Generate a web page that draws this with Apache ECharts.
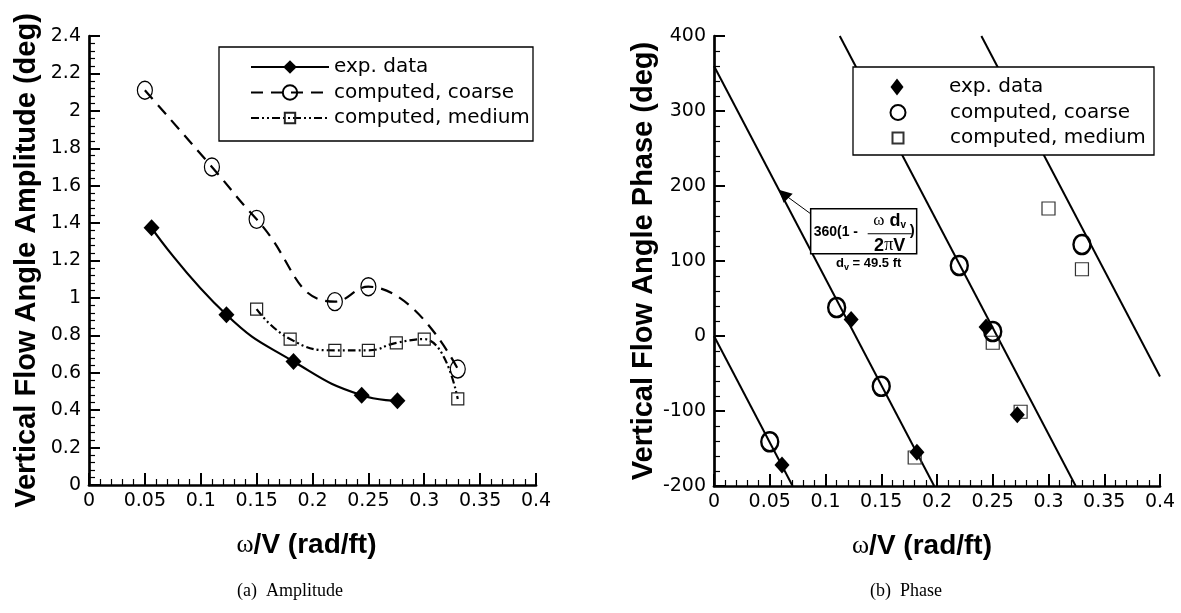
<!DOCTYPE html>
<html>
<head>
<meta charset="utf-8">
<script src="https://cdn.jsdelivr.net/npm/echarts@6/dist/echarts.min.js"></script>
<style>
html,body{margin:0;padding:0;background:#fff;}
#c{width:1181px;height:613px;}
</style>
</head>
<body>
<div id="c"></div>
<script>
// ---------- data ----------
const xTicks = [0, 0.05, 0.1, 0.15, 0.2, 0.25, 0.3, 0.35, 0.4];
const ampExp = [[0.056, 1.375], [0.123, 0.91], [0.183, 0.66], [0.244, 0.48], [0.276, 0.45]];
const ampCoarse = [[0.05, 2.11], [0.11, 1.70], [0.15, 1.42], [0.22, 0.98], [0.25, 1.06], [0.33, 0.62]];
const ampMedium = [[0.15, 0.94], [0.18, 0.78], [0.22, 0.72], [0.25, 0.72], [0.275, 0.76], [0.30, 0.78], [0.33, 0.46]];

const phExp = [[0.061, -172], [0.123, 22], [0.182, -155], [0.244, 12], [0.272, -105]];
const phCoarse = [[0.05, -141], [0.11, 38], [0.15, -67], [0.22, 94], [0.25, 6], [0.33, 122]];
const phMedium = [[0.18, -162], [0.25, -9], [0.275, -101], [0.30, 170], [0.33, 89]];
// reference lines 360(1 - w dv / 2piV) + k*360, endpoints
const refLine0 = [[0, 0], [0.0705, -200]];
const refLine1 = [[0, 360], [0.1975, -200]];
const refLine2 = [[0.1128, 400], [0.3244, -200]];
const refLine3 = [[0.2398, 400], [0.4, -54]];

const names = ['exp. data', 'computed, coarse', 'computed, medium'];
const annAnchor = [0.058, 195];

// ---------- chart ----------
const chart = echarts.init(document.getElementById('c'));
const FONT = '"DejaVu Sans", sans-serif';
const BFONT = '"Liberation Sans", Arial, sans-serif';
const tickLabel = {fontFamily: FONT, fontSize: 19, color: '#000'};

function xAxis(gi, shift) {
  return {
    gridIndex: gi, type: 'value', min: 0, max: 0.4, interval: 0.05,
    axisLine: {show: true, onZero: false, lineStyle: {color: '#000', width: 2.7}},
    axisTick: {show: true, inside: true, length: 12, lineStyle: {color: '#000', width: 2}},
    minorTick: {show: true, splitNumber: 5, length: 6, lineStyle: {color: '#000', width: 1.2}},
    splitLine: {show: false},
    axisLabel: Object.assign({margin: 7, formatter: v => String(+v.toFixed(2))}, tickLabel),
    name: '{w|ω}/V (rad/ft)', nameLocation: 'middle', nameGap: 46,
    nameTextStyle: {fontFamily: BFONT, fontWeight: 'bold', fontSize: 28, color: '#000', padding: [0, shift, 0, 0],
      rich: {w: {fontFamily: '"Liberation Serif", serif', fontWeight: 'normal', fontSize: 26, color: '#000'}}}
  };
}
function yAxis(gi, min, max, interval, name, gap) {
  return {
    gridIndex: gi, type: 'value', min: min, max: max, interval: interval,
    axisLine: {show: true, onZero: false, lineStyle: {color: '#000', width: 2.7}},
    axisTick: {show: true, inside: true, length: 11, lineStyle: {color: '#000', width: 2}},
    minorTick: {show: true, splitNumber: 5, length: 6, lineStyle: {color: '#000', width: 1.2}},
    splitLine: {show: false},
    axisLabel: Object.assign({margin: 8, formatter: v => String(+v.toFixed(2))}, tickLabel),
    name: name, nameLocation: 'middle', nameGap: gap, nameRotate: 90,
    nameTextStyle: {fontFamily: BFONT, fontWeight: 'bold', fontSize: 29, color: '#000'}
  };
}
const hollow = (bw, c) => ({color: 'rgba(0,0,0,0)', borderColor: c || '#000', borderWidth: bw, opacity: 1});

// legends: one component per entry so each icon can have its own size
const legTxt = {fontFamily: FONT, fontSize: 20, color: '#000', lineHeight: 22};
const leftRows = [67, 92.5, 118];
const leftIconH = [17, 18, 13];
const rightRows = [87, 112.5, 138];
const rightIcon = [[13, 17], [15, 15], [11, 11]];
const legends = [];
names.forEach((n, i) => {
  legends.push({data: [n], left: 250, top: leftRows[i] - 11, padding: 0, z: 20,
    itemWidth: 78, itemHeight: leftIconH[i], textStyle: legTxt, selectedMode: false});
});
names.forEach((n, i) => {
  const w = rightIcon[i][0], h = rightIcon[i][1];
  legends.push({data: [n + ' (b)'], left: 897 - w / 2, top: rightRows[i] - 11, padding: 0, z: 20,
    itemWidth: w, itemHeight: h, selectedMode: false,
    formatter: s => '{p|}' + s.replace(' (b)', ''),
    textStyle: Object.assign({rich: {p: {width: 47 - w / 2}}}, legTxt)});
});

const option = {
  animation: false,
  backgroundColor: '#fff',
  grid: [
    {left: 89, top: 36, width: 447, height: 449},
    {left: 714, top: 36, width: 446, height: 450}
  ],
  xAxis: [xAxis(0, 12), xAxis(1, 30)],
  yAxis: [
    yAxis(0, 0, 2.4, 0.2, 'Vertical Flow Angle Amplitude (deg)', 48),
    yAxis(1, -200, 400, 100, 'Vertical Flow Angle Phase (deg)', 48)
  ],
  legend: legends,
  series: [
    {name: names[0], type: 'line', xAxisIndex: 0, yAxisIndex: 0, data: ampExp, smooth: 0.5,
      symbol: 'diamond', symbolSize: [16, 17], itemStyle: {color: '#000'},
      lineStyle: {color: '#000', width: 2.2, type: 'solid'}, z: 5},
    {name: names[1], type: 'line', xAxisIndex: 0, yAxisIndex: 0, data: ampCoarse, smooth: 0.5,
      symbol: 'circle', symbolSize: [15, 18], itemStyle: hollow(1.3),
      lineStyle: {color: '#000', width: 2.2, type: [12, 8]}, z: 4},
    {name: names[2], type: 'line', xAxisIndex: 0, yAxisIndex: 0, data: ampMedium, smooth: 0.5,
      symbol: 'rect', symbolSize: [12, 12], itemStyle: hollow(1.2, '#222'),
      lineStyle: {color: '#000', width: 2.2, type: [8, 3, 2, 3, 2, 3]}, z: 3},

    {type: 'line', xAxisIndex: 1, yAxisIndex: 1, data: refLine0, showSymbol: false, silent: true,
      lineStyle: {color: '#000', width: 2}},
    {type: 'line', xAxisIndex: 1, yAxisIndex: 1, data: refLine1, showSymbol: false, silent: true,
      lineStyle: {color: '#000', width: 2}},
    {type: 'line', xAxisIndex: 1, yAxisIndex: 1, data: refLine2, showSymbol: false, silent: true,
      lineStyle: {color: '#000', width: 2}},
    {type: 'line', xAxisIndex: 1, yAxisIndex: 1, data: refLine3, showSymbol: false, silent: true,
      lineStyle: {color: '#000', width: 2}},

    {name: names[0] + ' (b)', type: 'scatter', xAxisIndex: 1, yAxisIndex: 1, data: phExp,
      symbol: 'diamond', symbolSize: [15, 17], itemStyle: {color: '#000', opacity: 1}, z: 5},
    {name: names[1] + ' (b)', type: 'scatter', xAxisIndex: 1, yAxisIndex: 1, data: phCoarse,
      symbol: 'circle', symbolSize: [17, 19], itemStyle: hollow(2.5), z: 4},
    {name: names[2] + ' (b)', type: 'scatter', xAxisIndex: 1, yAxisIndex: 1, data: phMedium,
      symbol: 'rect', symbolSize: 13, itemStyle: hollow(1.2, '#333'), z: 3}
  ],
  graphic: [
    {type: 'rect', z: 10, shape: {x: 219, y: 47, width: 314, height: 94}, style: {fill: '#fff', stroke: '#000', lineWidth: 1.3}},
    {type: 'rect', z: 10, shape: {x: 853, y: 67, width: 301, height: 88}, style: {fill: '#fff', stroke: '#000', lineWidth: 1.3}},
    {type: 'text', style: {text: '(a)  Amplitude', font: '18px "Liberation Serif", serif', fill: '#000', x: 290, y: 591, textAlign: 'center', textVerticalAlign: 'middle'}},
    {type: 'text', style: {text: '(b)  Phase', font: '18px "Liberation Serif", serif', fill: '#000', x: 906, y: 591, textAlign: 'center', textVerticalAlign: 'middle'}}
  ]
};
chart.setOption(option);

// annotation anchored at a point on the reference line
const tip = chart.convertToPixel({xAxisIndex: 1, yAxisIndex: 1}, annAnchor);
const bx = tip[0] + 32, by = tip[1] + 19, bw = 106, bh = 45;
const bold = (s) => 'bold ' + s + 'px "Liberation Sans", Arial, sans-serif';
chart.setOption({graphic: option.graphic.concat([
  {type: 'line', shape: {x1: bx, y1: by + 5, x2: tip[0] + 6, y2: tip[1] + 5}, style: {stroke: '#000', lineWidth: 1}, z: 30},
  {type: 'polygon', shape: {points: [[tip[0], tip[1]], [tip[0] + 14, tip[1] + 4], [tip[0] + 5, tip[1] + 13]]}, style: {fill: '#000'}, z: 30},
  {type: 'rect', shape: {x: bx, y: by, width: bw, height: bh}, style: {fill: '#fff', stroke: '#000', lineWidth: 1.5}, z: 30},
  {type: 'text', style: {text: '360(1 -', font: bold(14), fill: '#000', x: bx + 3, y: by + 23, textVerticalAlign: 'middle'}, z: 31},
  {type: 'text', style: {text: '{w|ω} d{s|v}', rich: {w: {font: '17px "Liberation Serif", serif', fill: '#000'}, s: {font: bold(10), fill: '#000', padding: [9, 0, 0, 0]}}, font: bold(18), fill: '#000', x: bx + 79, y: by + 12, textAlign: 'center', textVerticalAlign: 'middle'}, z: 31},
  {type: 'line', shape: {x1: bx + 57, y1: by + 25, x2: bx + 101, y2: by + 25}, style: {stroke: '#000', lineWidth: 1.2}, z: 31},
  {type: 'text', style: {text: '2{p|π}V', rich: {p: {font: '18px "Liberation Serif", serif', fill: '#000'}}, font: bold(18), fill: '#000', x: bx + 79, y: by + 37, textAlign: 'center', textVerticalAlign: 'middle'}, z: 31},
  {type: 'text', style: {text: ')', font: bold(15), fill: '#000', x: bx + 99, y: by + 22, textVerticalAlign: 'middle'}, z: 31},
  {type: 'text', style: {text: 'd{s|v} = 49.5 ft', rich: {s: {font: bold(9), fill: '#000', padding: [7, 0, 0, 0]}}, font: bold(13), fill: '#000', x: bx + 58, y: by + bh + 10, textAlign: 'center', textVerticalAlign: 'middle'}, z: 31}
])});
</script>
</body>
</html>
